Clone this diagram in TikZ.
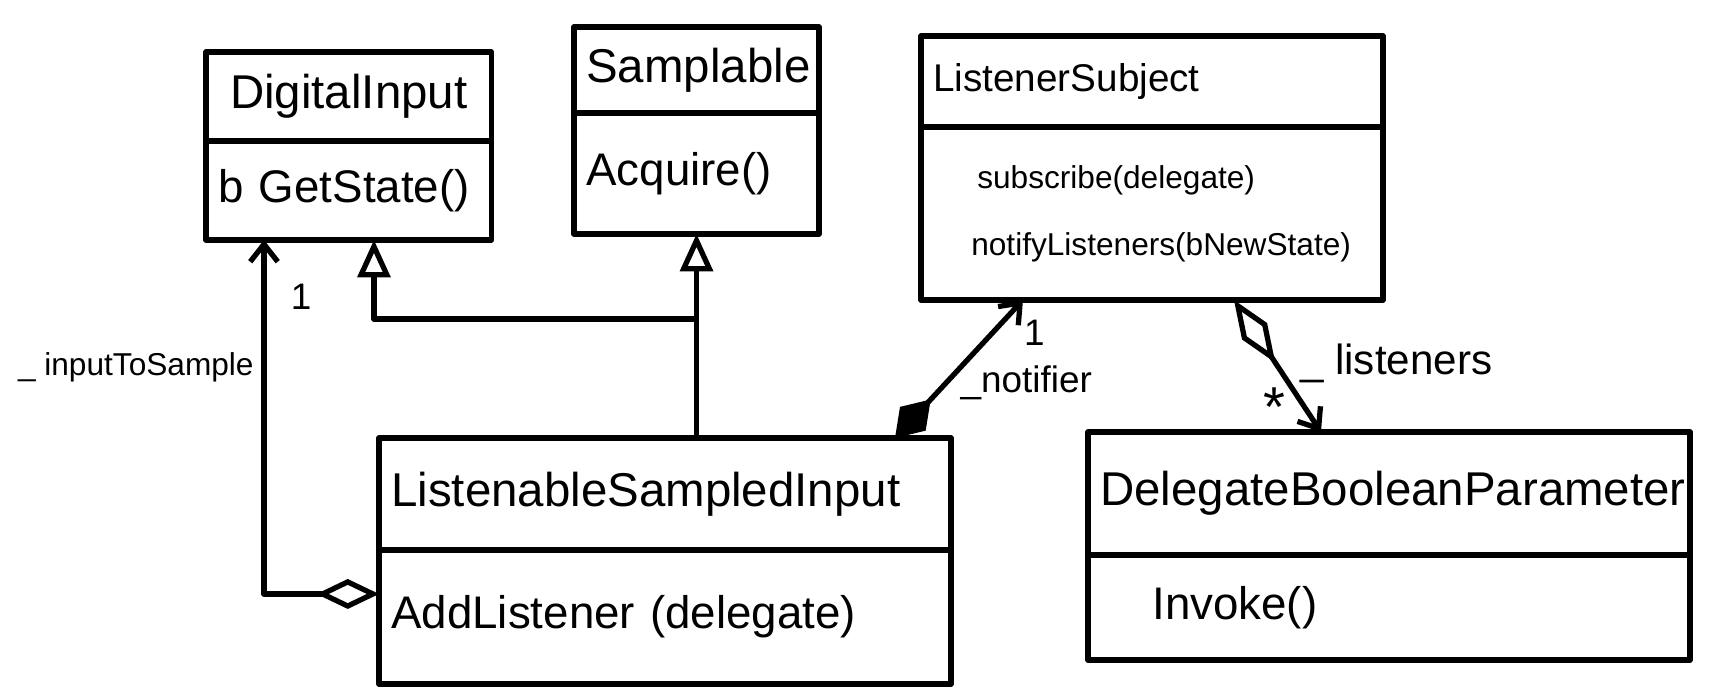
\documentclass[tikz,border=0pt]{standalone}
\usepackage{fontspec}
\setmainfont{Liberation Sans}
\usetikzlibrary{arrows.meta,positioning}
\begin{document}
\begin{tikzpicture}[x=0.02cm, y=-0.02cm, line width=3pt, line join=round,
  cbox/.style={draw, rectangle, outer sep=0pt, inner xsep=7pt, inner ysep=0pt, anchor=north west},
  clsfont/.style={font=\fontsize{27}{32}\selectfont},
  memfont/.style={font=\fontsize{26}{32}\selectfont},
  subfont/.style={font=\fontsize{18}{38}\selectfont},
  lbl/.style={font=\fontsize{21}{24}\selectfont, inner sep=1pt},
  isa/.style={-{Triangle[open, length=0.75cm, width=0.65cm]}},
  has/.style={{Diamond[open, length=1.25cm, width=0.6cm]}-{Straight Barb[length=0.35cm, width=0.55cm]}},
  owns/.style={{Diamond[length=1.05cm, width=0.7cm]}-{Straight Barb[length=0.35cm, width=0.55cm]}}]
\useasboundingbox (0,0) rectangle (1724,696);

% classes
\node[cbox, clsfont, text width=5.22cm, align=center, minimum height=1.78cm] (dinput) at (206,52) {DigitalInput};
\node[cbox, memfont, text width=5.22cm, align=left, minimum height=1.98cm, below=0pt of dinput] (diops) {b GetState()};

\node[cbox, clsfont, text width=4.41cm, align=center, minimum height=1.72cm] (samp) at (574,27) {Samplable};
\node[cbox, memfont, text width=4.41cm, align=left, minimum height=2.42cm, below=0pt of samp] (samops) {Acquire()};

\node[cbox, font=\fontsize{22}{26}\selectfont, text width=8.75cm, align=left, minimum height=1.82cm] (lsubj) at (921,36) {ListenerSubject};
\node[cbox, subfont, text width=8.75cm, align=left, minimum height=3.46cm, below=0pt of lsubj] (lsops)
  {\hspace*{0.88cm}subscribe(delegate)\\\hspace*{0.76cm}notifyListeners(bNewState)};

\node[cbox, clsfont, text width=10.95cm, align=left, minimum height=2.24cm] (lsi) at (379,438) {ListenableSampledInput};
\node[cbox, memfont, text width=10.95cm, align=left, minimum height=2.68cm, below=0pt of lsi] (lsiops) {AddListener (delegate)};

\node[cbox, clsfont, text width=11.55cm, align=left, minimum height=2.46cm] (dbp) at (1088,432) {DelegateBooleanParameter};
\node[cbox, memfont, text width=11.55cm, align=left, minimum height=2.1cm, below=0pt of dbp] (dbpops) {\hspace*{1.04cm}Invoke()};

% generalisation
\path (samops.south) ++(0,85) coordinate (join);
\draw[isa] (samops.south |- lsi.north) -- (samops.south);
\draw[isa] (join) -| ([xshift=3.36cm]diops.south west);

% associations
\draw[has] ([yshift=-0.88cm]lsiops.north west) -| ([xshift=1.16cm]diops.south west)
  node[lbl, pos=0.92, anchor=west, xshift=0.45cm] (m1) {1}
  node[lbl, pos=0.82, anchor=east, xshift=-0.12cm, font=\fontsize{18}{22}\selectfont] (r1) {\_ inputToSample};
\draw[owns] ([xshift=-1.12cm]lsi.north east) -- ([xshift=2.04cm]lsops.south west)
  node[lbl, pos=0.76, anchor=west, xshift=0.55cm] (m2) {1}
  node[lbl, pos=0.4, anchor=west, xshift=0.2cm] (r2) {\_notifier};
\draw[has, {Diamond[open, length=1.5cm, width=0.6cm]}-{Straight Barb[length=0.35cm, width=0.55cm]}]
  ([xshift=6.26cm]lsops.south west) -- ([xshift=4.66cm]dbp.north west)
  node[lbl, pos=0.81, anchor=east, xshift=-0.3cm, font=\fontsize{32}{32}\selectfont] (m3) {\raisebox{-0.35em}{*}}
  node[lbl, pos=0.48, anchor=west, xshift=0.4cm, font=\fontsize{24}{28}\selectfont] (r3) {\_ listeners};
\end{tikzpicture}
\end{document}
